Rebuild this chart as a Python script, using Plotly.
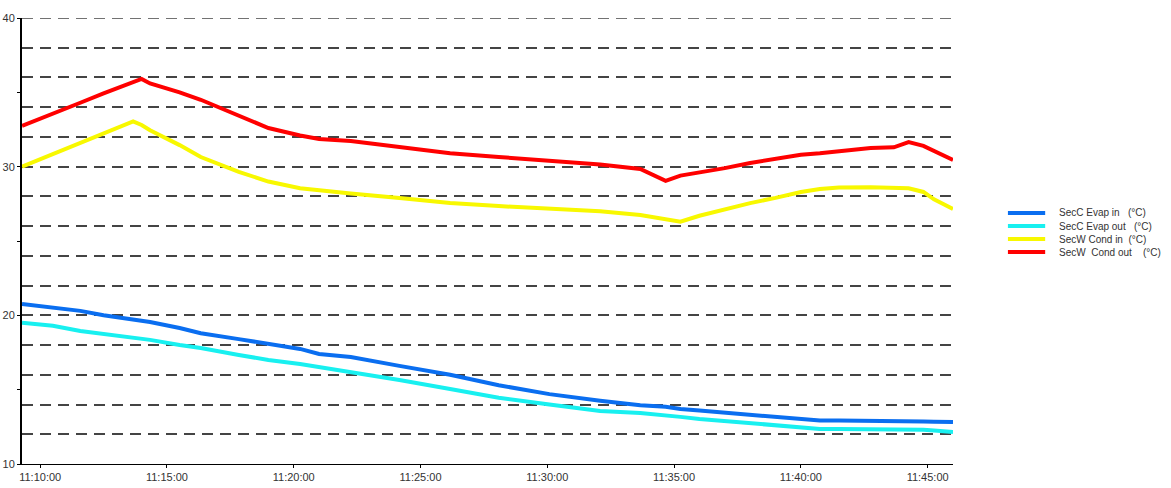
import plotly.graph_objects as go

# Sample times (HH:MM:SS) shared by every channel
times = [
    "11:09:17", "11:10:30", "11:11:35", "11:12:30", "11:13:40", "11:14:00",
    "11:14:20", "11:15:30", "11:16:20", "11:17:50", "11:19:00", "11:20:15",
    "11:21:00", "11:22:15", "11:24:10", "11:26:10", "11:28:05", "11:30:05",
    "11:32:05", "11:33:40", "11:34:40", "11:35:15", "11:36:00", "11:37:00",
    "11:38:00", "11:39:00", "11:40:00", "11:40:45", "11:41:30", "11:42:45",
    "11:43:40", "11:44:15", "11:44:50", "11:45:15", "11:46:00",
]

secc_evap_in = [
    20.77, 20.55, 20.30, 20.00, 19.70, 19.63, 19.55, 19.15, 18.80, 18.40,
    18.07, 17.74, 17.40, 17.20, 16.60, 16.00, 15.30, 14.70, 14.25, 13.95,
    13.85, 13.70, 13.60, 13.45, 13.30, 13.15, 13.03, 12.92, 12.92, 12.92,
    12.90, 12.88, 12.86, 12.85, 12.83,
]

secc_evap_out = [
    19.50, 19.30, 18.95, 18.75, 18.48, 18.42, 18.35, 18.00, 17.80, 17.33,
    17.00, 16.73, 16.53, 16.20, 15.65, 15.05, 14.45, 14.00, 13.57, 13.43,
    13.30, 13.17, 13.03, 12.90, 12.76, 12.63, 12.50, 12.36, 12.36, 12.36,
    12.36, 12.35, 12.30, 12.25, 12.16,
]

secw_cond_in = [
    30.00, 30.85, 31.60, 32.25, 33.05, 32.80, 32.45, 31.45, 30.65, 29.65,
    29.00, 28.55, 28.40, 28.20, 27.90, 27.55, 27.35, 27.15, 27.00, 26.75,
    26.45, 26.30, 26.70, 27.15, 27.55, 27.90, 28.30, 28.50, 28.60, 28.62,
    28.60, 28.55, 28.30, 27.80, 27.15,
]

secw_cond_out = [
    32.75, 33.54, 34.30, 34.93, 35.70, 35.90, 35.60, 35.00, 34.50, 33.40,
    32.60, 32.10, 31.86, 31.73, 31.30, 30.90, 30.65, 30.40, 30.15, 29.85,
    29.05, 29.40, 29.60, 29.90, 30.25, 30.50, 30.80, 30.90, 31.05, 31.25,
    31.30, 31.65, 31.40, 31.05, 30.45,
]

series_names = [
    "SecC Evap in\u00a0\u00a0\u00a0(\u00b0C)",
    "SecC Evap out\u00a0\u00a0\u00a0(\u00b0C)",
    "SecW Cond in\u00a0\u00a0(\u00b0C)",
    "SecW\u00a0 Cond out\u00a0\u00a0\u00a0\u00a0(\u00b0C)",
]
series_values = [secc_evap_in, secc_evap_out, secw_cond_in, secw_cond_out]
series_colors = ["#0a6ef0", "#18f0f0", "#f8f800", "#ff0000"]

y_tick_vals = [10, 15, 20, 25, 30, 35, 40]
y_tick_text = ["10", "", "20", "", "30", "", "40"]
y_top = 40

GRID_COLOR = "#444444"
GRID_DASH = "11px,7px"

DAY = "2021-06-01 "
x = [DAY + t for t in times]

fig = go.Figure()
for name, vals, color in zip(series_names, series_values, series_colors):
    fig.add_trace(go.Scatter(
        x=x, y=vals, name=name, mode="lines",
        line=dict(color=color, width=4),
        showlegend=False,
    ))

# Dashed gridline along the top edge of the value range
fig.add_shape(type="line", xref="x domain", yref="y", layer="below",
              x0=0, x1=1, y0=y_top, y1=y_top,
              line=dict(color=GRID_COLOR, width=1.5, dash=GRID_DASH))

# Compact legend block to the right of the plot
legend_top = 0.5628
legend_step = 0.0292
for i, (name, color) in enumerate(zip(series_names, series_colors)):
    yy = legend_top - i * legend_step
    fig.add_shape(type="line", xref="paper", yref="paper",
                  x0=1.059, x1=1.099, y0=yy, y1=yy,
                  line=dict(color=color, width=4))
    fig.add_annotation(xref="paper", yref="paper", x=1.112, y=yy,
                       text=name, showarrow=False, xanchor="left",
                       yanchor="middle",
                       font=dict(size=10, color="#333333",
                                 family="Liberation Sans, Arial, sans-serif"))

fig.update_layout(
    width=1171, height=488,
    margin=dict(l=22, r=218, t=18, b=24),
    paper_bgcolor="white", plot_bgcolor="white",
    font=dict(family="Liberation Sans, Arial, sans-serif", size=11,
              color="#333333"),
)

fig.update_xaxes(
    type="date", automargin=False,
    range=[DAY + "11:09:17", DAY + "11:46:00"],
    tick0=DAY + "11:10:00", dtick=300000,
    tickformat="%H:%M:%S",
    showgrid=False, zeroline=False,
    showline=True, linecolor="#000000", linewidth=1,
    ticks="outside", ticklen=3, tickcolor="#000000",
    tickfont=dict(size=11, color="#333333"),
)

fig.update_yaxes(
    automargin=False,
    range=[10, y_top],
    tickmode="array", tickvals=y_tick_vals, ticktext=y_tick_text,
    showgrid=False, zeroline=False,
    showline=True, linecolor="#000000", linewidth=2,
    ticks="outside", ticklen=3, tickcolor="#000000",
    tickfont=dict(size=11, color="#333333"),
    minor=dict(tick0=10, dtick=2, showgrid=True, gridcolor=GRID_COLOR,
               gridwidth=1.5, griddash=GRID_DASH, ticks=""),
)

fig.write_html("out.html")
